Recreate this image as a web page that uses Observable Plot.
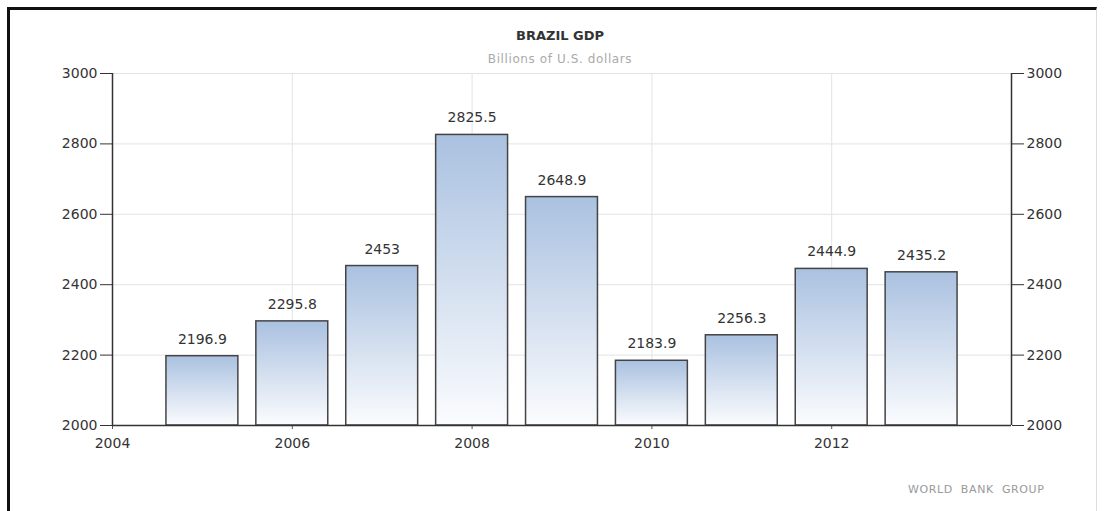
<!DOCTYPE html>
<html><head><meta charset="utf-8">
<script src="https://cdn.jsdelivr.net/npm/d3@7"></script>
<script src="https://cdn.jsdelivr.net/npm/@observablehq/plot@0.6"></script>
<style>
body{margin:0;background:#fff;font-family:"DejaVu Sans",sans-serif;width:1105px;height:511px;overflow:hidden;position:relative;}
#frame{position:absolute;left:7px;top:7px;width:1090px;height:520px;border-top:3px solid #111;border-left:3px solid #111;border-right:1px solid #ddd;box-sizing:border-box;}
#head{position:relative;height:66px;}
#title{position:absolute;top:28px;left:0;width:1120px;text-align:center;font-weight:bold;font-size:13px;color:#333;}
#subtitle{position:absolute;top:52px;left:0;width:1120px;text-align:center;font-size:12px;letter-spacing:0.6px;color:#aaa;}
#caption{position:absolute;top:483px;left:908px;font-size:11px;color:#999;letter-spacing:0.6px;word-spacing:4px;}
#chart{position:relative;}
</style>
</head><body>
<div id="frame"></div>
<div id="head"><div id="title">BRAZIL GDP</div><div id="subtitle">Billions of U.S. dollars</div></div>
<div id="chart"></div>
<div id="caption">WORLD BANK GROUP</div>
<script>
const years = [2005, 2006, 2007, 2008, 2009, 2010, 2011, 2012, 2013];
const gdp = [2196.9, 2295.8, 2453, 2825.5, 2648.9, 2183.9, 2256.3, 2444.9, 2435.2];
const valueLabels = ["2196.9", "2295.8", "2453", "2825.5", "2648.9", "2183.9", "2256.3", "2444.9", "2435.2"];
const yTicks = [2000, 2200, 2400, 2600, 2800, 3000];
const xTicks = [2004, 2006, 2008, 2010, 2012];
const xGrid = [2006, 2008, 2010, 2012];

const data = years.map((y, i) => ({year: y, value: gdp[i], label: valueLabels[i]}));

const svg = Plot.plot({
  width: 1105,
  height: 400,
  marginLeft: 112,
  marginRight: 94,
  marginTop: 7,
  marginBottom: 41,
  style: {fontFamily: "DejaVu Sans", fontSize: "14px", color: "#333", background: "transparent"},
  x: {type: "linear", domain: [2004, 2014]},
  y: {domain: [2000, 3000]},
  marks: [
    Plot.gridY(yTicks, {stroke: "#e3e3e3", strokeOpacity: 1}),
    Plot.gridX(xGrid, {stroke: "#e3e3e3", strokeOpacity: 1}),
    Plot.rect(data, {x1: d => d.year - 0.4, x2: d => d.year + 0.4, y1: 2000, y2: "value", fill: "url(#barGrad)", stroke: "#444", strokeWidth: 1.5}),
    Plot.text(data, {x: "year", y: "value", text: "label", dy: -17, fill: "#333", fontSize: 14}),
    Plot.axisY(yTicks, {anchor: "left", tickSize: 12, tickPadding: 3, tickFormat: d3.format("d"), label: null, stroke: "#333"}),
    Plot.axisY(yTicks, {anchor: "right", tickSize: 12, tickPadding: 3, tickFormat: d3.format("d"), label: null, stroke: "#333"}),
    Plot.axisX(xTicks, {anchor: "bottom", tickSize: 4, tickPadding: 9, tickFormat: d3.format("d"), label: null, stroke: "#555"}),
    Plot.ruleX([2004, 2014], {stroke: "#333", strokeWidth: 1.5}),
    Plot.ruleY([2000], {stroke: "#333", strokeWidth: 1.5})
  ]
});

const ns = "http://www.w3.org/2000/svg";
const defs = document.createElementNS(ns, "defs");
defs.innerHTML = '<linearGradient id="barGrad" x1="0" y1="0" x2="0" y2="1"><stop offset="0" stop-color="#aac1e0"/><stop offset="1" stop-color="#fbfcfe"/></linearGradient>';
svg.insertBefore(defs, svg.firstChild);
document.getElementById("chart").appendChild(svg);
</script>
</body></html>
